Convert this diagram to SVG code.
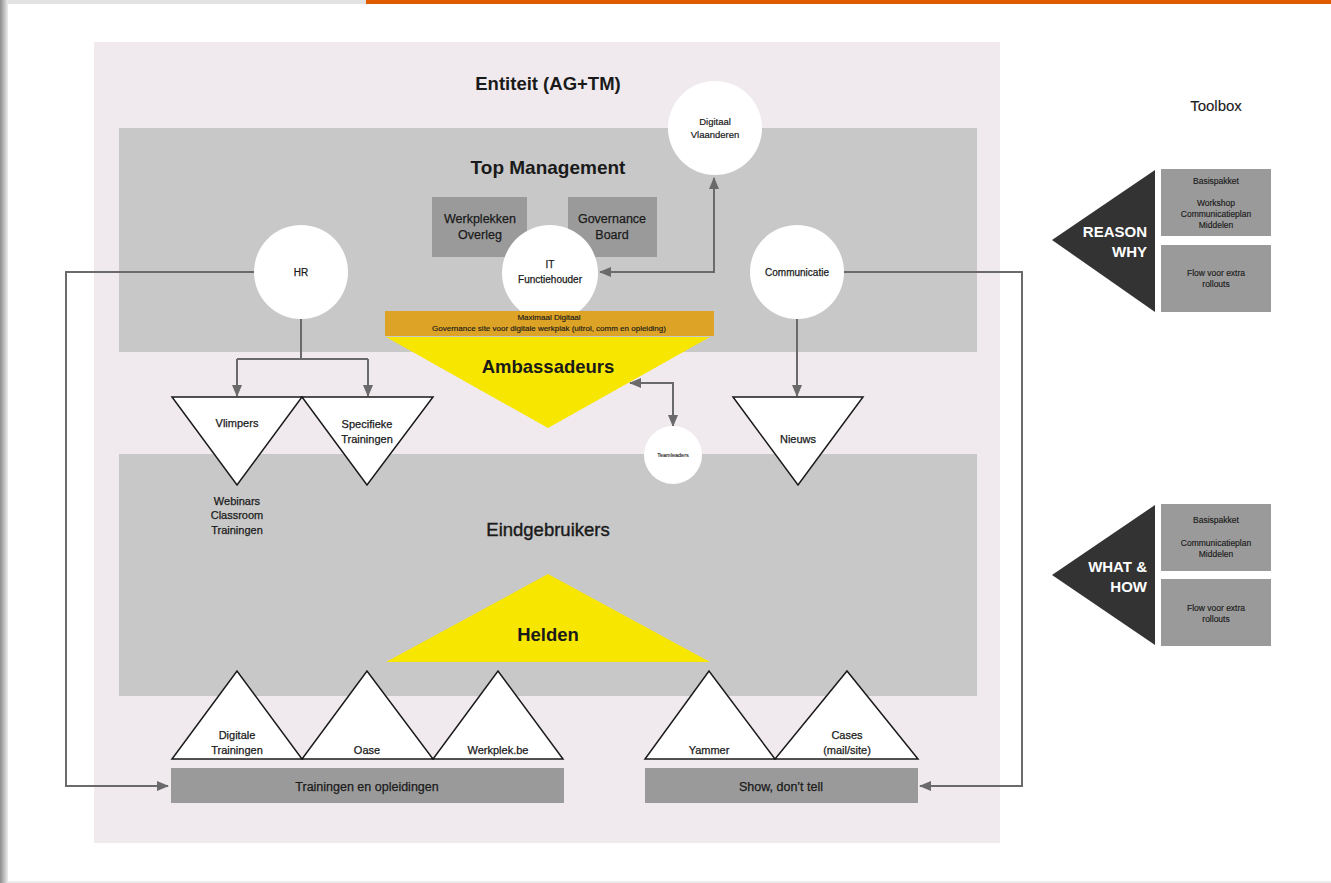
<svg xmlns="http://www.w3.org/2000/svg" width="1331" height="883" viewBox="0 0 1331 883">
  <style>
    text { font-family: "Liberation Sans", Arial, sans-serif; fill: #1a1a1a; text-anchor: middle; stroke: #1a1a1a; stroke-width: 0.25; }
    .title { font-size: 18.5px; font-weight: bold; stroke-width: 0; }
    .band { fill: #c8c8c8; }
    .box { fill: #9a9a9a; }
    .circle { fill: #ffffff; }
    .tri { fill: #ffffff; stroke: #1a1a1a; stroke-width: 1.5; stroke-linejoin: miter; }
    .yellow { fill: #f7e600; }
    .lbl { font-size: 11px; }
    .small { font-size: 8.5px; stroke-width: 0.15; }
    .conn { fill: none; stroke: #6a6a6a; stroke-width: 2; }
    .tool { fill: #333333; }
    .toolTxt { fill: #ffffff; stroke: none; font-size: 15px; font-weight: bold; text-anchor: end; }
  </style>
  <defs>
    <linearGradient id="edgeShade" x1="0" y1="0" x2="1" y2="0">
      <stop offset="0" stop-color="#8c8c8c"/>
      <stop offset="1" stop-color="#ececec"/>
    </linearGradient>
    <marker id="arrow" viewBox="0 0 12 10" refX="11" refY="5" markerWidth="12" markerHeight="10" markerUnits="userSpaceOnUse" orient="auto-start-reverse">
      <path d="M0,0 L12,5 L0,10 Z" fill="#6a6a6a"/>
    </marker>
  </defs>

  <!-- page frame -->
  <rect x="0" y="0" width="1331" height="883" fill="#ffffff"/>
  <rect x="0" y="0" width="366" height="4" fill="#e2e2e2"/>
  <rect x="366" y="0" width="965" height="4" fill="#e05a00"/>
  <rect x="0" y="0" width="8" height="883" fill="url(#edgeShade)"/>
  <rect x="8" y="881" width="1323" height="2" fill="#ececec"/>

  <!-- entity background and bands -->
  <rect x="94" y="42" width="906" height="801" fill="#f0eaee"/>
  <rect class="band" x="119" y="128" width="858" height="224"/>
  <rect class="band" x="119" y="454" width="858" height="242"/>

  <text class="title" x="548" y="90">Entiteit (AG+TM)</text>
  <text class="title" x="548" y="174" style="font-size:19px">Top Management</text>
  <text x="548" y="536" style="font-size:18.5px;stroke-width:0.4">Eindgebruikers</text>
  <text x="1216" y="111" style="font-size:15px;stroke-width:0.1">Toolbox</text>

  <!-- connectors -->
  <g id="connectors">
    <path class="conn" d="M255,272 H66 V786 H168" marker-end="url(#arrow)"/>
    <path class="conn" d="M843,272 H1022 V786 H920" marker-end="url(#arrow)"/>
    <path class="conn" d="M301,319 V359"/>
    <path class="conn" d="M237,359 H368"/>
    <path class="conn" d="M237,359 V396" marker-end="url(#arrow)"/>
    <path class="conn" d="M368,359 V396" marker-end="url(#arrow)"/>
    <path class="conn" d="M797,319 V396" marker-end="url(#arrow)"/>
    <path class="conn" d="M714,178 V272 H600" marker-start="url(#arrow)" marker-end="url(#arrow)"/>
    <path class="conn" d="M630,383 H673 V426" marker-start="url(#arrow)" marker-end="url(#arrow)"/>
  </g>

  <!-- top management nodes -->
  <g id="werkplekken-overleg">
    <rect class="box" x="432" y="197" width="95" height="60"/>
    <text x="480" y="223" style="font-size:12.5px">Werkplekken</text>
    <text x="480" y="239" style="font-size:12.5px">Overleg</text>
  </g>
  <g id="governance-board">
    <rect class="box" x="568" y="197" width="89" height="60"/>
    <text x="612" y="223" style="font-size:12.5px">Governance</text>
    <text x="612" y="239" style="font-size:12.5px">Board</text>
  </g>
  <g id="digitaal-vlaanderen">
    <circle class="circle" cx="715" cy="128" r="47"/>
    <text x="715" y="125" style="font-size:9.5px;stroke-width:0.2">Digitaal</text>
    <text x="715" y="138" style="font-size:9.5px;stroke-width:0.2">Vlaanderen</text>
  </g>
  <g id="hr">
    <circle class="circle" cx="301" cy="272" r="47"/>
    <text x="301" y="276" style="font-size:10px">HR</text>
  </g>
  <g id="it-functiehouder">
    <circle class="circle" cx="550" cy="273" r="48"/>
    <text x="550" y="268" style="font-size:10px">IT</text>
    <text x="550" y="283" style="font-size:10px">Functiehouder</text>
  </g>
  <g id="communicatie">
    <circle class="circle" cx="797" cy="272" r="47"/>
    <text x="797" y="276" style="font-size:10px">Communicatie</text>
  </g>
  <g id="maximaal-digitaal">
    <rect x="385" y="311" width="329" height="25" fill="#dda326"/>
    <text x="549" y="320" style="font-size:8px;stroke-width:0.15">Maximaal Digitaal</text>
    <text x="549" y="331" style="font-size:8px;stroke-width:0.15">Governance site voor digitale werkplak (uitrol, comm en opleiding)</text>
  </g>

  <!-- ambassadors -->
  <g id="ambassadeurs">
    <polygon class="yellow" points="386,337 710,337 548,428"/>
    <text x="548" y="373" style="font-size:18.5px;font-weight:bold;stroke-width:0">Ambassadeurs</text>
  </g>
  <g id="vlimpers">
    <polygon class="tri" points="172,397 302,397 237,485"/>
    <text class="lbl" x="237" y="427">Vlimpers</text>
  </g>
  <g id="specifieke-trainingen">
    <polygon class="tri" points="302,397 433,397 367,485"/>
    <text class="lbl" x="367" y="428">Specifieke</text>
    <text class="lbl" x="367" y="443">Trainingen</text>
  </g>
  <g id="webinars">
    <text class="lbl" x="237" y="505">Webinars</text>
    <text class="lbl" x="237" y="519">Classroom</text>
    <text class="lbl" x="237" y="534">Trainingen</text>
  </g>
  <g id="teamleaders">
    <circle class="circle" cx="673" cy="455" r="29"/>
    <text x="673" y="457" style="font-size:5.5px;stroke-width:0.1">Teamleaders</text>
  </g>
  <g id="nieuws">
    <polygon class="tri" points="733,397 863,397 798,485"/>
    <text class="lbl" x="798" y="443">Nieuws</text>
  </g>

  <!-- end users -->
  <g id="helden">
    <polygon class="yellow" points="386,662 710,662 548,574"/>
    <text x="548" y="641" style="font-size:18.5px;font-weight:bold;stroke-width:0">Helden</text>
  </g>
  <g id="digitale-trainingen">
    <polygon class="tri" points="172,759 302,759 237,671"/>
    <text class="lbl" x="237" y="739">Digitale</text>
    <text class="lbl" x="237" y="754">Trainingen</text>
  </g>
  <g id="oase">
    <polygon class="tri" points="302,759 433,759 367,671"/>
    <text class="lbl" x="367" y="754">Oase</text>
  </g>
  <g id="werkplek-be">
    <polygon class="tri" points="433,759 563,759 498,671"/>
    <text class="lbl" x="498" y="754">Werkplek.be</text>
  </g>
  <g id="yammer">
    <polygon class="tri" points="645,759 775,759 709,671"/>
    <text class="lbl" x="709" y="754">Yammer</text>
  </g>
  <g id="cases">
    <polygon class="tri" points="775,759 918,759 847,671"/>
    <text class="lbl" x="847" y="739">Cases</text>
    <text class="lbl" x="847" y="754">(mail/site)</text>
  </g>
  <g id="trainingen-en-opleidingen">
    <rect class="box" x="171" y="768" width="393" height="35"/>
    <text x="367" y="791" style="font-size:12.5px">Trainingen en opleidingen</text>
  </g>
  <g id="show-dont-tell">
    <rect class="box" x="645" y="768" width="273" height="35"/>
    <text x="781" y="791" style="font-size:12.5px">Show, don’t tell</text>
  </g>

  <!-- toolbox -->
  <g id="reason-why">
    <polygon class="tool" points="1155,170 1155,312 1052,240"/>
    <text class="toolTxt" x="1147" y="237">REASON</text>
    <text class="toolTxt" x="1147" y="257">WHY</text>
  </g>
  <g id="reason-basispakket">
    <rect class="box" x="1161" y="169" width="110" height="67"/>
    <text class="small" x="1216" y="184">Basispakket</text>
    <text class="small" x="1216" y="206">Workshop</text>
    <text class="small" x="1216" y="217">Communicatieplan</text>
    <text class="small" x="1216" y="228">Middelen</text>
  </g>
  <g id="reason-flow">
    <rect class="box" x="1161" y="245" width="110" height="67"/>
    <text class="small" x="1216" y="276">Flow voor extra</text>
    <text class="small" x="1216" y="287">rollouts</text>
  </g>
  <g id="what-how">
    <polygon class="tool" points="1155,505 1155,645 1052,575"/>
    <text class="toolTxt" x="1147" y="572">WHAT &amp;</text>
    <text class="toolTxt" x="1147" y="592">HOW</text>
  </g>
  <g id="what-basispakket">
    <rect class="box" x="1161" y="504" width="110" height="67"/>
    <text class="small" x="1216" y="523">Basispakket</text>
    <text class="small" x="1216" y="546">Communicatieplan</text>
    <text class="small" x="1216" y="557">Middelen</text>
  </g>
  <g id="what-flow">
    <rect class="box" x="1161" y="579" width="110" height="67"/>
    <text class="small" x="1216" y="611">Flow voor extra</text>
    <text class="small" x="1216" y="622">rollouts</text>
  </g>
</svg>
